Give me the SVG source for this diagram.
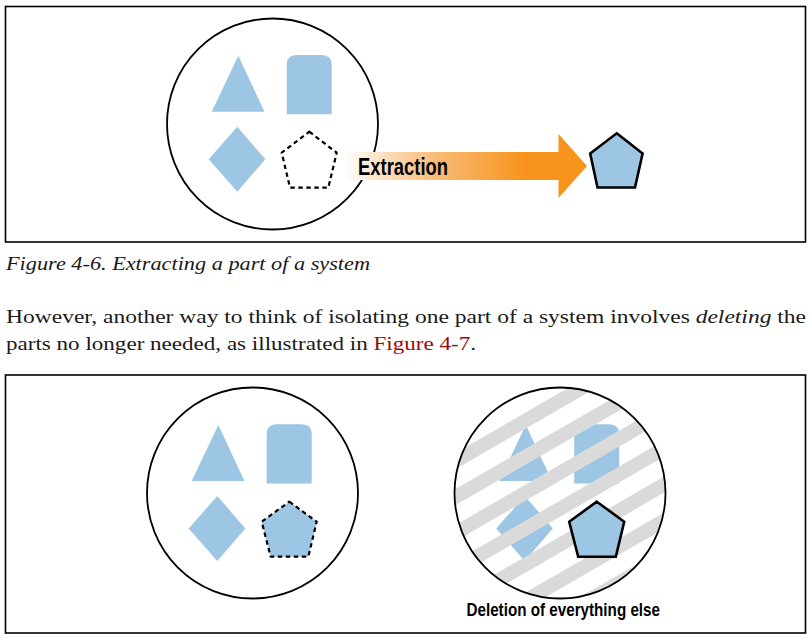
<svg xmlns="http://www.w3.org/2000/svg" width="811" height="638" viewBox="0 0 811 638">
  <style>
    .frame { fill: #FFFFFF; stroke: #000000; stroke-width: 1.6; }
    .circ { fill: none; stroke: #000000; stroke-width: 1.8; }
    .blue { fill: #9CC6E4; stroke: none; }
    .dash { fill: none; stroke: #000000; stroke-width: 2.2; stroke-dasharray: 4.5 3.5; stroke-linejoin: round; }
    .dashb { fill: #9CC6E4; stroke: #000000; stroke-width: 2.2; stroke-dasharray: 4.5 3.5; stroke-linejoin: round; }
    .solid { fill: #9CC6E4; stroke: #000000; stroke-width: 2.6; stroke-linejoin: miter; }
    .stripe { stroke: #DADADA; stroke-width: 14; }
    .body { font-family: "Liberation Serif", "Times New Roman", serif; font-size: 19.5px; fill: #1A1A1A; }
    .label { font-family: "Liberation Sans Narrow", "Liberation Sans", Arial, sans-serif; font-weight: bold; fill: #000000; }
  </style>
  <defs>
    <linearGradient id="arrowGrad" gradientUnits="userSpaceOnUse" x1="345" y1="0" x2="525" y2="0">
      <stop offset="0" stop-color="#FFFFFF"/>
      <stop offset="0.12" stop-color="#FDEBD8"/>
      <stop offset="0.5" stop-color="#F9BC78"/>
      <stop offset="1" stop-color="#F7941D"/>
    </linearGradient>
    <clipPath id="rightClip">
      <circle cx="560" cy="493" r="105.5"/>
    </clipPath>
    <g id="shapes">
      <polygon class="blue" points="238.3,55.7 211.7,111.7 264.5,111.7"/>
      <path class="blue" d="M286.7,114.3 V65 Q286.7,55 296.7,55 H321.7 Q331.7,55 331.7,65 V114.3 Z"/>
      <polygon class="blue" points="208.7,159.3 237.3,126.7 265.3,159.3 237.3,191.7"/>
    </g>
  </defs>

  <rect id="frame-top" class="frame" x="5.5" y="6.5" width="800" height="235.5"/>
  <rect id="frame-bottom" class="frame" x="5.5" y="375" width="800" height="258"/>

  <!-- Figure 4-6 -->
  <g id="system-top">
    <circle class="circ" cx="272.5" cy="124" r="105.5"/>
    <use href="#shapes"/>
    <polygon class="dash" points="309.3,131.7 336.7,152.7 328.3,187.7 290,187.7 281.7,152.7"/>
  </g>

  <g id="connectors">
    <g id="extraction-arrow">
      <polygon fill="url(#arrowGrad)" points="345,152 558.5,152 558.5,134 587,166 558.5,198 558.5,180 345,180"/>
      <text class="label" x="358" y="175" font-size="24" textLength="90" lengthAdjust="spacingAndGlyphs">Extraction</text>
    </g>
  </g>

  <g id="extracted-part">
    <polygon class="solid" points="616.7,133.3 642.6,153.5 635,187.5 597.5,187.5 590.2,153.5"/>
  </g>

  <text id="caption" class="body" x="6" y="270" font-style="italic" textLength="364" lengthAdjust="spacingAndGlyphs">Figure 4-6. Extracting a part of a system</text>

  <text class="body" x="6" y="323" textLength="800" lengthAdjust="spacingAndGlyphs">However, another way to think of isolating one part of a system involves <tspan font-style="italic">deleting</tspan> the</text>
  <text class="body" x="6" y="350" textLength="470" lengthAdjust="spacingAndGlyphs">parts no longer needed, as illustrated in <tspan fill="#9B0A0A">Figure 4-7</tspan>.</text>

  <!-- Figure 4-7 -->
  <g id="system-left">
    <circle class="circ" cx="252.5" cy="493" r="105.5"/>
    <use href="#shapes" transform="translate(-20,369.3)"/>
    <polygon class="dashb" points="289.3,501.7 316.7,521.7 308.3,556.7 270.7,556.7 261.7,521.7"/>
  </g>

  <g id="system-right">
    <use href="#shapes" transform="translate(287.5,369.3)"/>
    <g clip-path="url(#rightClip)">
      <line class="stripe" x1="440" y1="434" x2="680" y2="295.4"/>
      <line class="stripe" x1="440" y1="470" x2="680" y2="331.4"/>
      <line class="stripe" x1="440" y1="506" x2="680" y2="367.4"/>
      <line class="stripe" x1="440" y1="542" x2="680" y2="403.4"/>
      <line class="stripe" x1="440" y1="578" x2="680" y2="439.4"/>
      <line class="stripe" x1="440" y1="614" x2="680" y2="475.4"/>
      <line class="stripe" x1="440" y1="650" x2="680" y2="511.4"/>
      <line class="stripe" x1="440" y1="686" x2="680" y2="547.4"/>
    </g>
    <circle class="circ" cx="560" cy="493" r="105.5"/>
    <polygon class="solid" points="596.8,501.7 624.2,521.7 615.8,556.7 578.2,556.7 569.2,521.7"/>
    <text class="label" x="466.5" y="616" font-size="18.5" textLength="193.5" lengthAdjust="spacingAndGlyphs">Deletion of everything else</text>
  </g>
</svg>
